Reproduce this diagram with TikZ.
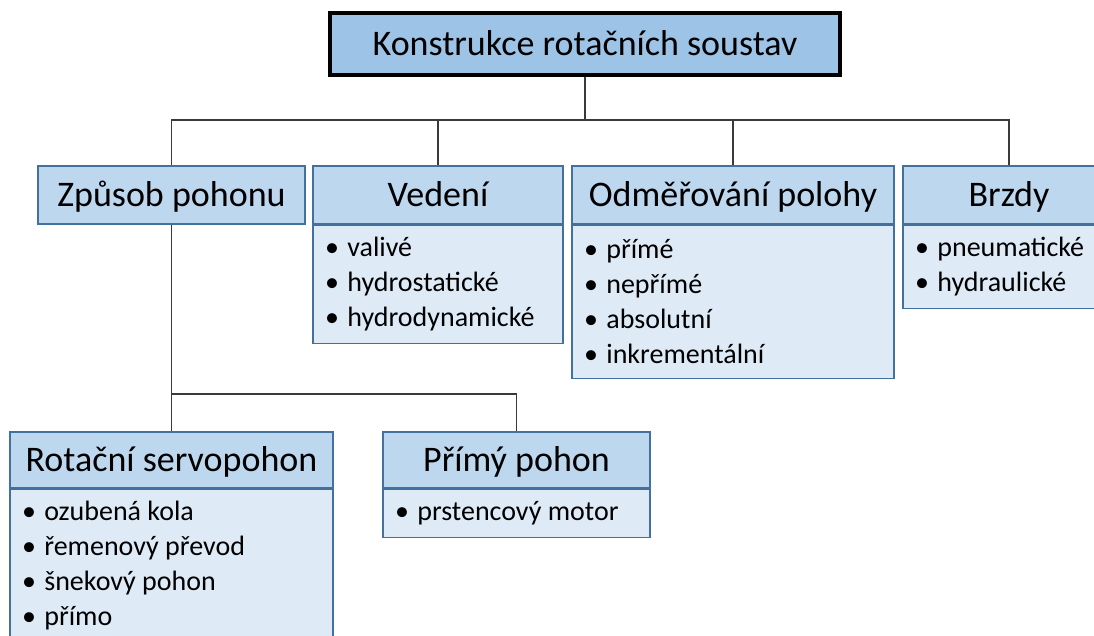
\documentclass[tikz,border=0pt]{standalone}
\usepackage{fontspec}
\setmainfont{Carlito}
\usepackage{tikz}
\usetikzlibrary{positioning,calc}
\usepackage{xcolor}
\definecolor{rootfill}{HTML}{9DC3E6}
\definecolor{hdrfill}{HTML}{BDD7EE}
\definecolor{bodyfill}{HTML}{DEEBF7}
\definecolor{frame}{HTML}{41719C}
\definecolor{wire}{HTML}{3A3A3A}
\newcommand{\bul}{•\hspace{0.3em}}
\tikzset{
  rootbox/.style={rectangle,draw=black,fill=rootfill,line width=2.6pt,
    minimum width=382.5pt,minimum height=46.5pt,inner sep=0pt,
    text height=17.4pt,text depth=0pt,
    font=\fontsize{27}{32}\selectfont},
  hdrbox/.style={rectangle,draw=frame,fill=hdrfill,line width=1pt,
    minimum height=43.5pt,inner sep=0pt,text height=17.4pt,text depth=0pt,
    font=\fontsize{27}{32}\selectfont},
  listbox/.style={rectangle,draw=frame,fill=bodyfill,line width=1pt,
    anchor=north,inner xsep=9pt,inner ysep=0pt,align=left,
    execute at begin node={\spaceskip=0pt\xspaceskip=0pt\relax},
    font=\fontsize{21}{26.25}\selectfont},
  tieline/.style={draw=wire,line width=0.9pt},
}

\begin{document}
\begin{tikzpicture}[x=0.75pt,y=-0.75pt]
  \useasboundingbox (0,0) rectangle (1094,635);
  % root
  \node[rootbox] (root) at (585,44) {Konstrukce rotačních soustav};
  % first level
  \node[hdrbox,minimum width=200.25pt] (zpusob) at (171.5,195) {Způsob pohonu};
  \node[hdrbox,minimum width=187.5pt] (vedeni) at (438,195) {Vedení};
  \node[hdrbox,minimum width=241.5pt] (odmer) at (733,195) {Odměřování polohy};
  \node[hdrbox,minimum width=159pt] (brzdy) at (1009,195) {Brzdy};
  \node[listbox,text width=169.5pt,minimum height=88.5pt] (vedenilist) at (vedeni.south)
    {\bul valivé\\\bul hydrostatické\\\bul hydrodynamické};
  \node[listbox,text width=223.5pt,minimum height=114.75pt] (odmerlist) at (odmer.south)
    {\bul přímé\\\bul nepřímé\\\bul absolutní\\\bul inkrementální};
  \node[listbox,text width=141pt,minimum height=62.25pt] (brzdylist) at (brzdy.south)
    {\bul pneumatické\\\bul hydraulické};
  % second level
  \node[hdrbox,minimum width=242.25pt,minimum height=42pt] (rotacni) at (171.5,460) {Rotační servopohon};
  \node[hdrbox,minimum width=200.25pt,minimum height=42pt] (primy) at (516.5,460) {Přímý pohon};
  \node[listbox,text width=224.25pt,minimum height=114.75pt] (rotacnilist) at (rotacni.south)
    {\bul ozubená kola\\\bul řemenový převod\\\bul šnekový pohon\\\bul přímo};
  \node[listbox,text width=182.25pt,minimum height=36pt] (primylist) at (primy.south)
    {\bul prstencový motor};
  % connectors
  \coordinate (bus) at (585,120);
  \coordinate (fork) at (171.5,394);
  \draw[tieline] (root.south) -- (bus);
  \foreach \n in {zpusob,vedeni,odmer,brzdy}
    \draw[tieline] (bus) -| (\n.north);
  \draw[tieline] (zpusob.south) -- (fork);
  \foreach \n in {rotacni,primy}
    \draw[tieline] (fork) -| (\n.north);
\end{tikzpicture}
\end{document}
